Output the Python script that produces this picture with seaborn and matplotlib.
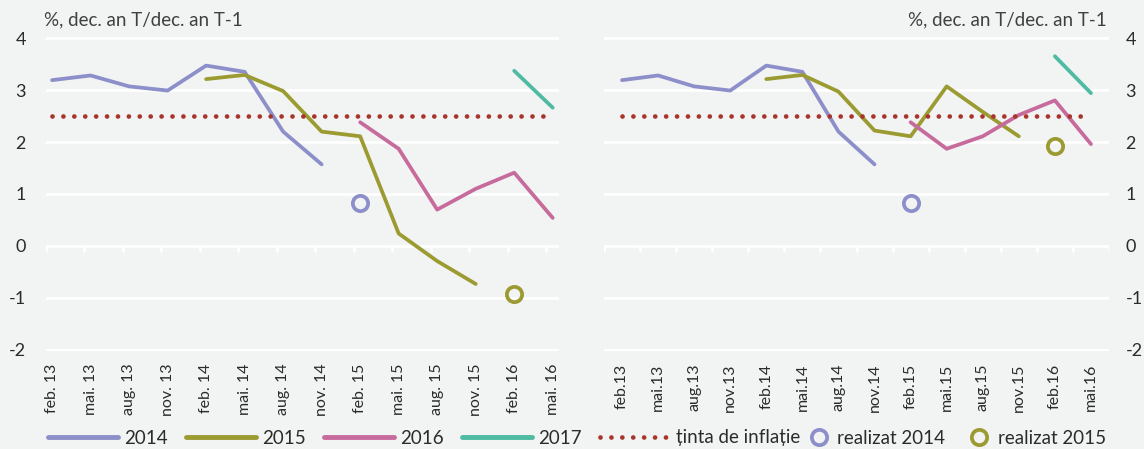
import numpy as np
import pandas as pd
import matplotlib
matplotlib.use("Agg")
import matplotlib.pyplot as plt
import seaborn as sns
from matplotlib.lines import Line2D

# ---------------- data ----------------
categories = ["feb. 13", "mai. 13", "aug. 13", "nov. 13", "feb. 14", "mai. 14", "aug. 14",
              "nov. 14", "feb. 15", "mai. 15", "aug. 15", "nov. 15", "feb. 16", "mai. 16"]
categories_right = ["feb.13", "mai.13", "aug.13", "nov.13", "feb.14", "mai.14", "aug.14",
                    "nov.14", "feb.15", "mai.15", "aug.15", "nov.15", "feb.16", "mai.16"]

# left panel
left_2014 = [3.19, 3.28, 3.07, 2.99, 3.47, 3.35, 2.20, 1.57]          # feb.13 .. nov.14
left_2015 = [3.21, 3.29, 2.98, 2.20, 2.11, 0.24, -0.29, -0.73]        # feb.14 .. nov.15
left_2016 = [2.38, 1.87, 0.70, 1.10, 1.41, 0.54]                      # feb.15 .. mai.16
left_2017 = [3.37, 2.66]                                              # feb.16 .. mai.16
left_real_2014 = 0.82   # at feb.15
left_real_2015 = -0.93  # at feb.16

# right panel
right_2014 = [3.19, 3.28, 3.07, 2.99, 3.47, 3.35, 2.20, 1.57]
right_2015 = [3.21, 3.29, 2.97, 2.22, 2.11, 3.07, 2.58, 2.11]
right_2016 = [2.38, 1.87, 2.11, 2.52, 2.80, 1.96]
right_2017 = [3.65, 2.94]
right_real_2014 = 0.83
right_real_2015 = 1.92

target = 2.5
yticks = [-2, -1, 0, 1, 2, 3, 4]
unit_label = "%, dec. an T/dec. an T-1"
legend_labels = ["2014", "2015", "2016", "2017", "ținta de inflație", "realizat 2014", "realizat 2015"]

# ---------------- style ----------------
BG = "#F2F4F3"
C2014 = "#8C8FC9"
C2015 = "#9B9B32"
C2016 = "#C66B9C"
C2017 = "#4FBBA2"
CTGT = "#A8352B"
TXT = "#2B2B2B"
DOTS = (0, (0.01, 2.3))

sns.set_theme(style="white")
plt.rcParams["font.family"] = ["Lato", "DejaVu Sans"]

fig = plt.figure(figsize=(11.44, 4.49), dpi=100, facecolor=BG)
axL = fig.add_axes([45.5 / 1144, 1 - 351 / 449, 513 / 1144, 314 / 449])
axR = fig.add_axes([604 / 1144, 1 - 351 / 449, 505 / 1144, 314 / 449])

n = len(categories)
idx = np.arange(n)


def series_df(values, start):
    return pd.DataFrame({"x": idx[start:start + len(values)], "y": values})


def draw(ax, s14, s15, s16, s17, r14, r15, tick_offset, xlim, labels, right=False):
    ax.set_facecolor(BG)
    for v in yticks:
        ax.axhline(v, color="white", lw=2, zorder=0)
    lw = 2.7
    sns.lineplot(data=series_df(s14, 0), x="x", y="y", ax=ax, color=C2014, lw=lw)
    sns.lineplot(data=series_df(s15, 4), x="x", y="y", ax=ax, color=C2015, lw=lw)
    sns.lineplot(data=series_df(s16, 8), x="x", y="y", ax=ax, color=C2016, lw=lw)
    sns.lineplot(data=series_df(s17, 12), x="x", y="y", ax=ax, color=C2017, lw=lw)
    tgt = pd.DataFrame({"x": [idx[0], idx[-1] - 0.1], "y": [target, target]})
    ax.plot(tgt["x"], tgt["y"], color=CTGT, lw=3.4, ls=DOTS,
            dash_capstyle="round", solid_capstyle="round")
    for (xx, yy, c) in zip([idx[8], idx[12]], [r14, r15], [C2014, C2015]):
        ax.plot([xx], [yy], marker="o", ms=11, mfc="none", mec=c, mew=2.7, ls="none", zorder=5)
    # tick marks hanging from zero line
    tpos = np.arange(n + 1) + tick_offset
    tpos = tpos[(tpos >= xlim[0] - 1e-6) & (tpos <= xlim[1] + 1e-6)]
    ax.vlines(tpos, -0.12, 0, color="white", lw=1.8, zorder=0)

    ax.set_xlim(*xlim)
    ax.set_ylim(-2.02, 4.02)
    ax.set_xticks(idx)
    ax.set_xticklabels(labels, rotation=90, fontsize=11.5, color=TXT)
    ax.set_yticks(yticks)
    ax.set_yticklabels([str(v) for v in yticks], fontsize=13, color=TXT)
    ax.tick_params(axis="both", length=0)
    ax.tick_params(axis="x", pad=9)
    if right:
        ax.yaxis.tick_right()
        ax.tick_params(axis="y", pad=12)
    else:
        ax.tick_params(axis="y", pad=14)
    ax.set_xlabel("")
    ax.set_ylabel("")
    for sp in ax.spines.values():
        sp.set_visible(False)


draw(axL, left_2014, left_2015, left_2016, left_2017, left_real_2014, left_real_2015,
     -0.17, (-0.17, 13.15), categories)
draw(axR, right_2014, right_2015, right_2016, right_2017, right_real_2014, right_real_2015,
     -0.5, (-0.5, 13.5), categories_right, right=True)

fig.text(44 / 1144, 1 - 20 / 449, unit_label, fontsize=13.5, color="#404040",
         va="center", ha="left")
fig.text(1107 / 1144, 1 - 20 / 449, unit_label, fontsize=13.5, color="#404040",
         va="center", ha="right")

# legends
line_handles = [
    Line2D([], [], color=C2014, lw=3.5),
    Line2D([], [], color=C2015, lw=3.5),
    Line2D([], [], color=C2016, lw=3.5),
    Line2D([], [], color=C2017, lw=3.5),
    Line2D([], [], color=CTGT, lw=3.4, ls=DOTS, dash_capstyle="round"),
]
leg1 = fig.legend(line_handles, legend_labels[:5], loc="center left",
                  bbox_to_anchor=(48 / 1144, 1 - 438 / 449), ncol=5, frameon=False,
                  fontsize=13.5, handlelength=3.75, handletextpad=0.33, columnspacing=0.95,
                  borderaxespad=0, borderpad=0)
for t in leg1.get_texts():
    t.set_color(TXT)
circ_handles = [
    Line2D([], [], color=C2014, marker="o", ms=11, mfc="none", mew=2.7, ls="none"),
    Line2D([], [], color=C2015, marker="o", ms=11, mfc="none", mew=2.7, ls="none"),
]
leg2 = fig.legend(circ_handles, legend_labels[5:], loc="center right",
                  bbox_to_anchor=(1106 / 1144, 1 - 438 / 449), ncol=2, frameon=False,
                  fontsize=13.5, handlelength=1.0, handletextpad=0.5, columnspacing=1.3,
                  borderaxespad=0, borderpad=0)
for t in leg2.get_texts():
    t.set_color(TXT)

fig.savefig("out.png", dpi=100, facecolor=BG)
